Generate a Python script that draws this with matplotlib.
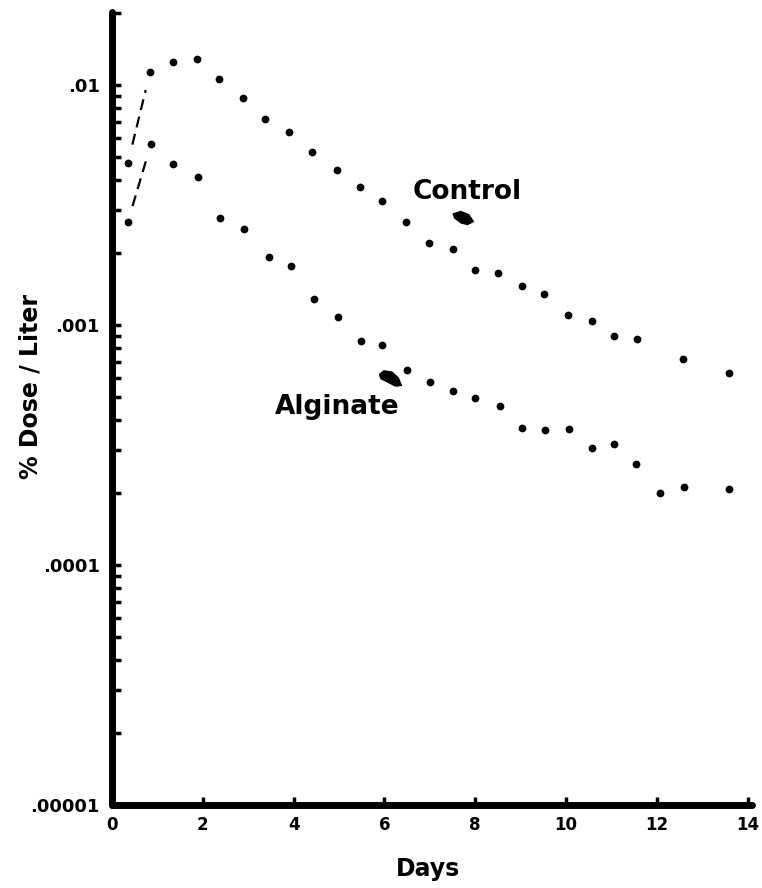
import matplotlib
matplotlib.use("Agg")
import matplotlib.pyplot as plt
import numpy as np
from matplotlib.ticker import FixedLocator, LogLocator, NullFormatter

# ---- data ----
control_days = [0.35, 0.84, 1.34, 1.87, 2.36, 2.89, 3.37, 3.90, 4.41, 4.96, 5.46, 5.95,
                6.48, 6.98, 7.51, 8.00, 8.50, 9.03, 9.52, 10.04, 10.57, 11.06, 11.56,
                12.58, 13.59]
control_vals = [0.00473, 0.01132, 0.01247, 0.01283, 0.01059, 0.00883, 0.00722, 0.00637,
                0.00526, 0.00442, 0.00376, 0.00329, 0.00269, 0.00220, 0.00207, 0.00170,
                0.00165, 0.00145, 0.00135, 0.00110, 0.00104, 0.000900, 0.000875,
                0.000722, 0.000631]

alginate_days = [0.35, 0.86, 1.34, 1.89, 2.38, 2.91, 3.46, 3.94, 4.45, 4.98, 5.48, 5.95,
                 6.50, 7.00, 7.51, 8.00, 8.55, 9.03, 9.54, 10.07, 10.57, 11.06, 11.54,
                 12.07, 12.60, 13.59]
alginate_vals = [0.00269, 0.00568, 0.00469, 0.00414, 0.00279, 0.00251, 0.00192, 0.00175,
                 0.00128, 0.00108, 0.000858, 0.000825, 0.000649, 0.000579, 0.000531,
                 0.000497, 0.000460, 0.000372, 0.000365, 0.000369, 0.000307, 0.000319,
                 0.000264, 0.000200, 0.000211, 0.000207]

x_ticks = [0, 2, 4, 6, 8, 10, 12, 14]
y_ticks = [1e-5, 1e-4, 1e-3, 1e-2]
y_ticklabels = [".00001", ".0001", ".001", ".01"]

FONT = "DejaVu Sans"

fig = plt.figure(figsize=(7.62, 8.88), dpi=100)
ax = fig.add_axes([0.147, 0.0935, 0.840, 0.893])

ax.set_yscale("log")
ax.set_xlim(0, 14.1)
ax.set_ylim(1e-5, 0.0201)

ax.plot(control_days, control_vals, "o", color="black", ms=5.6, mew=0)
ax.plot(alginate_days, alginate_vals, "o", color="black", ms=5.6, mew=0)

# dashed connectors between the first two points of each series
for xs, ys in ((control_days, control_vals), (alginate_days, alginate_vals)):
    x0, x1 = xs[0], xs[1]
    l0, l1 = np.log10(ys[0]), np.log10(ys[1])
    t = np.array([0.2, 0.8])
    ax.plot(x0 + t * (x1 - x0), 10 ** (l0 + t * (l1 - l0)), color="black",
            lw=1.6, dashes=(5, 3))

# labels with arrow blobs
ax.text(6.63, 0.00358, "Control", fontsize=19, fontweight="bold", family=FONT,
        ha="left", va="center")
ax.text(3.59, 0.000455, "Alginate", fontsize=19, fontweight="bold", family=FONT,
        ha="left", va="center")

blob_c = [(-10, 5), (-1.7, 7.7), (6.7, 4.3), (11.7, -3.3), (5, -6.7), (-1.7, -5), (-8.3, 0)]
blob_a = [(-11.7, 4.3), (-6.7, 8.3), (1.7, 7), (8.3, 1), (11.7, -7.3), (5, -8.3),
          (-3.3, -4), (-10, -0.7)]
ax.plot([7.70], [0.00279], marker=blob_c + [blob_c[0]], ms=17, color="black", mew=0,
        linestyle="none")
ax.plot([6.12], [0.000603], marker=blob_a + [blob_a[0]], ms=17, color="black", mew=0,
        linestyle="none")

# spines
for s in ("top", "right"):
    ax.spines[s].set_visible(False)
for s in ("left", "bottom"):
    ax.spines[s].set_linewidth(5)
    ax.spines[s].set_capstyle("round")

ax.set_xticks(x_ticks)
ax.set_xticklabels([str(v) for v in x_ticks])
ax.yaxis.set_major_locator(FixedLocator(y_ticks))
ax.set_yticklabels(y_ticklabels)
ax.yaxis.set_minor_locator(LogLocator(base=10, subs=np.arange(2, 10)))
ax.yaxis.set_minor_formatter(NullFormatter())

ax.tick_params(axis="both", which="both", direction="in", color="black")
ax.tick_params(axis="y", which="major", length=6.5, width=2.5, pad=9)
ax.tick_params(axis="y", which="minor", length=6.5, width=2.5)
ax.tick_params(axis="x", which="major", length=5.5, width=2.5, pad=8)
for lab in ax.get_yticklabels():
    lab.set_fontsize(13)
    lab.set_fontweight("bold")
    lab.set_family(FONT)
for lab in ax.get_xticklabels():
    lab.set_fontsize(12)
    lab.set_fontweight("bold")
    lab.set_family(FONT)

ax.set_ylabel("% Dose / Liter", fontsize=17, fontweight="bold", family=FONT)
ax.yaxis.set_label_coords(-0.128, 0.528)
ax.yaxis.label.set_va("center")
ax.set_xlabel("Days", fontsize=17, fontweight="bold", family=FONT)
ax.xaxis.set_label_coords(0.494, -0.066)
ax.xaxis.label.set_va("top")

fig.savefig("out.png", dpi=100)
